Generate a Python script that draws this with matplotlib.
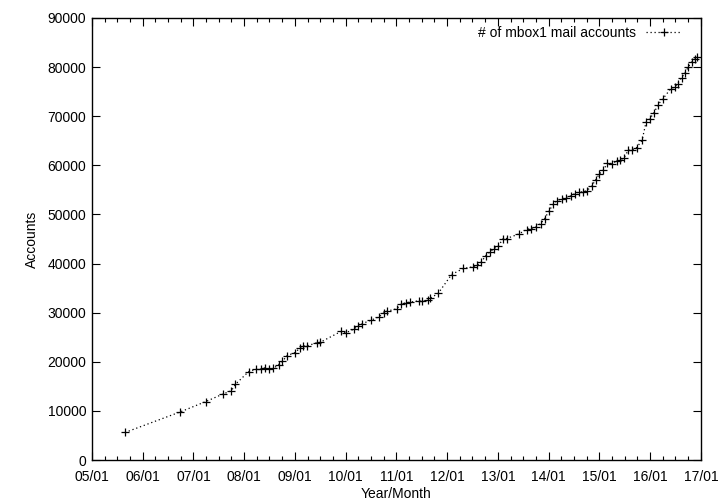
import matplotlib
matplotlib.use("Agg")
import matplotlib.pyplot as plt
import matplotlib.dates as mdates
import pandas as pd
from matplotlib.ticker import MultipleLocator

dates = [
    "2005-08-26", "2006-09-29", "2007-03-31", "2007-07-30", "2007-10-01", "2007-10-30",
    "2008-02-02", "2008-03-29", "2008-04-28", "2008-05-29", "2008-07-01", "2008-07-30",
    "2008-09-05", "2008-10-02", "2008-11-04", "2008-12-31", "2009-02-04", "2009-03-01",
    "2009-03-28", "2009-06-06", "2009-06-30", "2009-11-28", "2010-01-02", "2010-03-01",
    "2010-03-29", "2010-04-27", "2010-07-03", "2010-08-29", "2010-10-02", "2010-10-26",
    "2011-01-02", "2011-02-04", "2011-03-10", "2011-04-08", "2011-06-09", "2011-07-07",
    "2011-08-19", "2011-08-29", "2011-10-28", "2012-02-02", "2012-04-26", "2012-07-02",
    "2012-08-04", "2012-08-31", "2012-10-06", "2012-11-04", "2012-12-03", "2013-01-03",
    "2013-02-08", "2013-03-04", "2013-06-01", "2013-07-26", "2013-08-26", "2013-09-29",
    "2013-11-04", "2013-12-03", "2014-01-03", "2014-02-02", "2014-02-27", "2014-04-04",
    "2014-05-04", "2014-06-07", "2014-07-08", "2014-08-08", "2014-09-06", "2014-10-04",
    "2014-11-05", "2014-12-05", "2015-01-01", "2015-01-28", "2015-02-28", "2015-03-29",
    "2015-05-04", "2015-05-28", "2015-06-28", "2015-07-27", "2015-08-24", "2015-09-25",
    "2015-11-04", "2015-12-02", "2015-12-30", "2016-01-30", "2016-02-27", "2016-04-03",
    "2016-05-28", "2016-06-26", "2016-07-16", "2016-08-14", "2016-09-07", "2016-10-01",
    "2016-10-25", "2016-11-18", "2016-12-05",
]
accounts = [
    5600, 9800, 11900, 13400, 14100, 15400,
    18000, 18500, 18500, 18750, 18500, 18650,
    19430, 20080, 21220, 21870, 22720, 23230,
    23230, 23860, 23940, 26180, 25900, 26650,
    27320, 27730, 28480, 29150, 29960, 30310,
    30780, 31730, 32000, 32140, 32400, 32280,
    32550, 32890, 33910, 37770, 39000, 39320,
    39670, 40220, 41640, 42370, 43060, 43590,
    45100, 45100, 46030, 46930, 47130, 47460,
    48150, 49170, 50710, 52070, 52750, 53230,
    53360, 53760, 54250, 54580, 54580, 54860,
    55740, 57040, 58260, 58990, 60480, 60350,
    60820, 61030, 61570, 63060, 63060, 63610,
    65090, 68750, 69510, 70750, 72380, 73580,
    75610, 75940, 76630, 77850, 78780, 80000,
    81020, 81710, 82040,
]
series_label = "# of mbox1 mail accounts"
x_label = "Year/Month"
y_label = "Accounts"

plt.rcParams['font.family'] = ['Liberation Sans', 'DejaVu Sans']
plt.rcParams['font.size'] = 10

fig = plt.figure(figsize=(7.18, 5.01), dpi=100)
ax = fig.add_axes([92/718, 1-460/501, (701-92)/718, (460-18)/501])

x = pd.to_datetime(dates)
ax.plot(x, accounts, color='black', linestyle=(0, (1, 2.2)), linewidth=0.9,
        marker='+', markersize=5.5, markeredgewidth=0.9, label=series_label)

ax.set_xlim(pd.Timestamp("2005-01-01"), pd.Timestamp("2017-01-01"))
ax.set_ylim(0, 90000)
ax.xaxis.set_major_locator(mdates.YearLocator())
ax.xaxis.set_major_formatter(mdates.DateFormatter("%y/%m"))
ax.xaxis.set_minor_locator(mdates.MonthLocator(bymonth=[4, 7, 10]))
ax.yaxis.set_major_locator(MultipleLocator(10000))

ax.tick_params(which='both', direction='in', top=True, right=True, colors='black', labelsize=10)
ax.tick_params(which='major', length=6, width=0.8, pad=4)
ax.tick_params(axis='x', which='major', pad=7)
ax.tick_params(which='minor', length=3, width=0.8)
for s in ax.spines.values():
    s.set_linewidth(1.0)
    s.set_color('black')

ax.set_xlabel(x_label, fontsize=10, labelpad=2)
ax.set_ylabel(y_label, fontsize=10, labelpad=6)

ax.legend(loc='center right', bbox_to_anchor=(682/718, 1-33/501),
          bbox_transform=fig.transFigure, frameon=False, markerfirst=False,
          fontsize=10, handlelength=2.6, borderpad=0, borderaxespad=0,
          handletextpad=0.7)

fig.savefig("out.png", dpi=100)
